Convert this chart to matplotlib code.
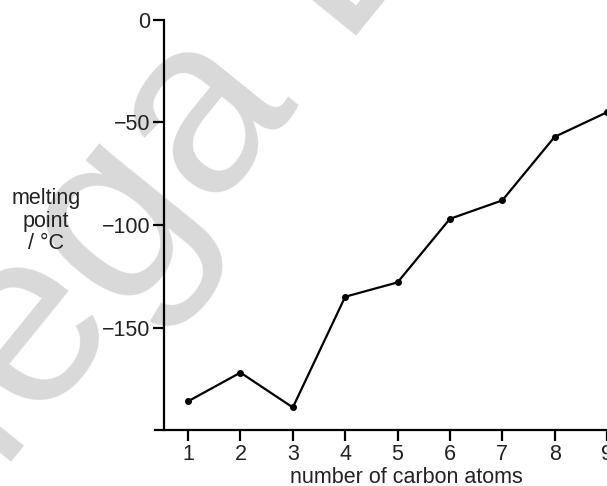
import matplotlib.pyplot as plt

plt.rcParams['font.family'] = ['Liberation Sans', 'DejaVu Sans']

carbons = [1, 2, 3, 4, 5, 6, 7, 8, 9]
melting_point = [-186, -172, -189, -135, -128, -97, -88, -57, -45]
y_ticks = [0, -50, -100, -150]
y_labels = ['0', '\u221250', '\u2212100', '\u2212150']

fig = plt.figure(figsize=(6.07, 4.86), dpi=100)

# faint watermark behind the chart
fig.text(0.555, 1.09, 'Mega Lecture', fontsize=180, color='#d9d9d9',
         rotation=51, ha='center', va='center', zorder=-5)

ax = fig.add_axes([164 / 607, 56 / 486, 1 - 164 / 607, 410 / 486])
ax.patch.set_alpha(0)

ax.plot(carbons, melting_point, color='black', lw=1.6, marker='o', ms=4,
        clip_on=False, zorder=3)

ax.set_xlim(0.54, 9.0)
ax.set_ylim(-200, 0)
ax.set_xticks(carbons)
ax.set_yticks(y_ticks)
ax.set_yticklabels(y_labels)

for s in ['top', 'right']:
    ax.spines[s].set_visible(False)
for s in ['left', 'bottom']:
    ax.spines[s].set_linewidth(1.6)
ax.spines['bottom'].set_bounds(0.37, 9.0)

ax.tick_params(direction='out', length=8, width=1.6, labelsize=15.5,
               labelcolor='#222222', pad=2)

ax.set_xlabel('number of carbon atoms', fontsize=15.5, color='#222222')
ax.xaxis.set_label_coords((406 - 164) / 443, -0.09)
fig.text(46 / 607, 1 - 221 / 486, 'melting\npoint\n/ \u00b0C', fontsize=15.5,
         color='#222222', ha='center', va='center', linespacing=1.1)

plt.savefig('out.png', dpi=100)
plt.close()
